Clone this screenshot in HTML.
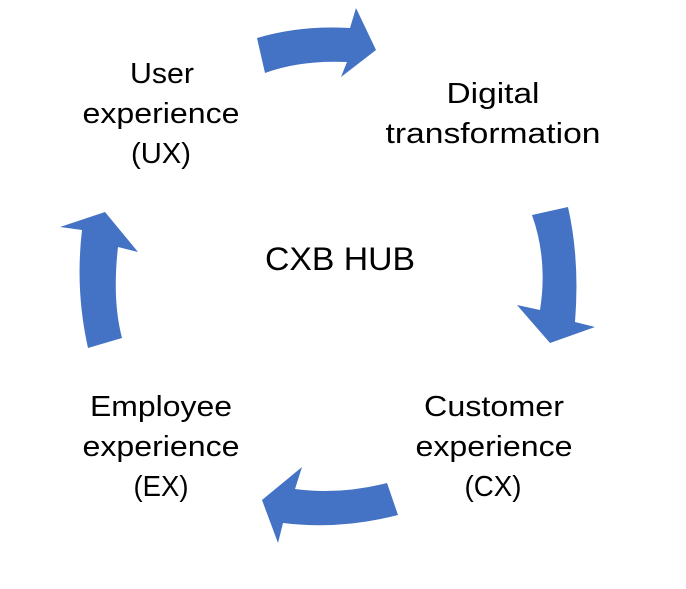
<!DOCTYPE html>
<html><head><meta charset="utf-8"><style>html,body{margin:0;padding:0;background:#fff}svg{display:block}</style></head>
<body>
<svg width="686" height="589" viewBox="0 0 686 589" xmlns="http://www.w3.org/2000/svg">
<g fill="#4472C4">
<path d="M257,38 Q300,25 350,28 L356,8 L376,50 L341,77 L347,62 Q300,60 265,73 Z"/>
<path d="M532,215 Q548,260 540,310 L517,305 L550,343 L595,327 L575,322 Q580,260 568,207 Z"/>
<path d="M387,483 Q340,495 295,489 L302,467 L262,500 L278,543 L283,523 Q340,530 398,515 Z"/>
<path d="M88,348 Q75,290 82,230 L60,227 L105,212 L138,252 L118,247 Q112,300 122,338 Z"/>
</g>
<g font-family="Liberation Sans, sans-serif" font-size="29" fill="#000" text-anchor="middle" lengthAdjust="spacingAndGlyphs">
<text x="162" y="83" textLength="64" lengthAdjust="spacingAndGlyphs">User</text>
<text x="161" y="123" textLength="157" lengthAdjust="spacingAndGlyphs">experience</text>
<text x="161" y="163" textLength="60" lengthAdjust="spacingAndGlyphs">(UX)</text>
<text x="493" y="103" textLength="93" lengthAdjust="spacingAndGlyphs">Digital</text>
<text x="493" y="143" textLength="215" lengthAdjust="spacingAndGlyphs">transformation</text>
<text x="340" y="270" font-size="32" textLength="150" lengthAdjust="spacingAndGlyphs">CXB HUB</text>
<text x="494" y="416" textLength="140" lengthAdjust="spacingAndGlyphs">Customer</text>
<text x="494" y="456" textLength="157" lengthAdjust="spacingAndGlyphs">experience</text>
<text x="493" y="496" textLength="57" lengthAdjust="spacingAndGlyphs">(CX)</text>
<text x="161" y="416" textLength="142" lengthAdjust="spacingAndGlyphs">Employee</text>
<text x="161" y="456" textLength="157" lengthAdjust="spacingAndGlyphs">experience</text>
<text x="161" y="496" textLength="55" lengthAdjust="spacingAndGlyphs">(EX)</text>
</g>
</svg>
</body></html>
